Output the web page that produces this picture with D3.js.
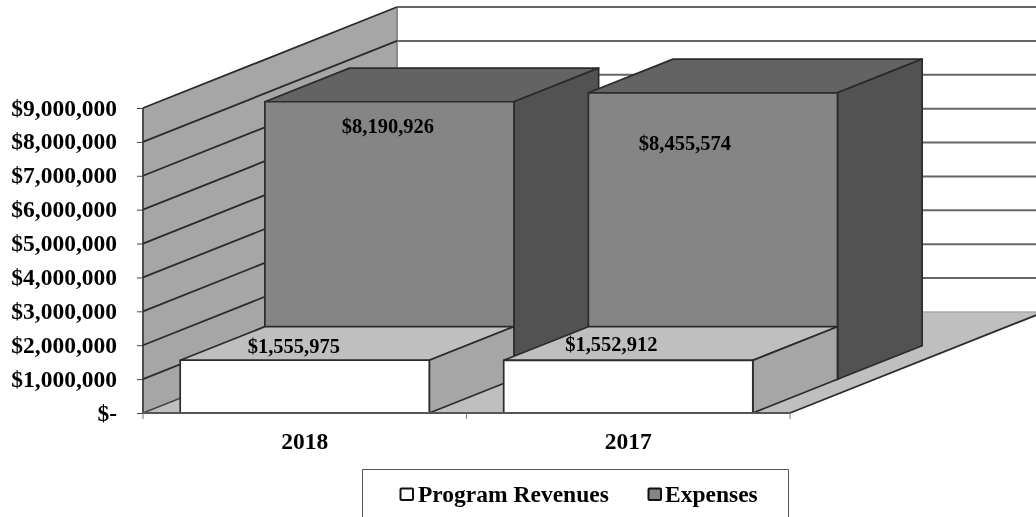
<!DOCTYPE html>
<html><head><meta charset="utf-8">
<script src="https://cdn.jsdelivr.net/npm/d3@7"></script>
<style>html,body{margin:0;padding:0;background:#fff;overflow:hidden}svg{display:block;filter:blur(0.4px)}text{font-family:"Liberation Serif",serif;font-weight:bold;fill:#000}</style>
</head><body><div id="c"></div>
<script>
const categories = ["2018", "2017"];
const seriesNames = ["Program Revenues", "Expenses"];
const programRevenues = [1555975, 1552912];
const expenses = [8190926, 8455574];
const yTicks = [0,1e6,2e6,3e6,4e6,5e6,6e6,7e6,8e6,9e6];
const seriesValues = [programRevenues, expenses];

const seriesFill = [
  {front:"#ffffff", top:"#bfbfbf", side:"#a6a6a6"},
  {front:"#858585", top:"#636363", side:"#525252"}
];
const labelOffset = [[[-11,-7],[-17,-9]],[[-1.5,31],[-28,57]]]; // [series][category] px from top-front centre

const W=1036,H=517;
const svg=d3.select("#c").append("svg").attr("width",W).attr("height",H);
const x=d3.scaleBand().domain(categories).range([143,790]);
const y=d3.scaleLinear().domain([0,9000000]).range([413,108]);
const zx=d3.scaleLinear().domain([0,3]).range([0,254]);
const zy=d3.scaleLinear().domain([0,3]).range([0,-101]);
const barW=x.bandwidth()*0.77;
const P=(px,v,z)=>[px+zx(z),y(v)+zy(z)];
const poly=(pts,fill,stroke,sw)=>svg.append("polygon").attr("points",pts.map(p=>p.join(",")).join(" "))
  .attr("fill",fill).attr("stroke",stroke||"none").attr("stroke-width",sw||0).attr("stroke-linejoin","round");
const line=(a,b,c,w)=>svg.append("line").attr("x1",a[0]).attr("y1",a[1]).attr("x2",b[0]).attr("y2",b[1]).attr("stroke",c).attr("stroke-width",w);

const x0=x.range()[0],x1=x.range()[1],vMax=y.domain()[1];

// floor
poly([P(x0,0,0),P(x1,0,0),P(x1,0,3),P(x0,0,3)],"#bfbfbf");
// left wall
poly([P(x0,0,0),P(x0,vMax,0),P(x0,vMax,3),P(x0,0,3)],"#a6a6a6");
line(P(x0,0,3),P(x0,vMax,3),"#8c8c8c",2);
line(P(x0,0,0),P(x0,vMax,0),"#404040",1.8);
// gridlines
yTicks.forEach(t=>{
  if(t>0) line(P(x0,t,0),P(x0,t,3),"#2b2b2b",1.8);
  line(P(x0,t,3),[W+2,P(x0,t,3)[1]],t>0?"#666":"#a8a8a8",t>0?2:1.5);
});
// floor diagonal edges
line(P(x0,0,0),P(x0,0,3),"#444",1.5);
line(P(x1,0,0),P(x1,0,3),"#2b2b2b",1.8);

function bar(s,c){
  const v=seriesValues[s][c];
  const l=x(categories[c])+(x.bandwidth()-barW)/2, r=l+barW;
  const f=seriesFill[s], st="#2b2b2b";
  poly([P(l,v,s),P(r,v,s),P(r,v,s+1),P(l,v,s+1)],f.top,st,1.7);
  poly([P(r,0,s),P(r,v,s),P(r,v,s+1),P(r,0,s+1)],f.side,st,1.7);
  poly([P(l,0,s),P(r,0,s),P(r,v,s),P(l,v,s)],f.front,st,1.7);
}
[1,0].forEach(s=>categories.forEach((_,c)=>bar(s,c)));
line(P(x0,0,0),P(x1,0,0),"#555",2);

// axes
const yAxis=d3.axisLeft(y).tickValues(yTicks).tickSize(6).tickPadding(20)
  .tickFormat(d=>d===0?"$-":d3.format("$,")(d));
const gy=svg.append("g").attr("transform",`translate(${x0},0)`).call(yAxis);
gy.select(".domain").remove();
gy.selectAll("line").attr("stroke","#444").attr("stroke-width",1);
gy.selectAll("text").style("font-size","23.5px").style("font-family","'Liberation Serif',serif").style("font-weight","bold").attr("fill","#000").attr("dy","0.3em");

const xAxis=d3.axisBottom(x).tickSize(0).tickPadding(19);
const gx=svg.append("g").attr("transform",`translate(0,${y(0)})`).call(xAxis);
gx.select(".domain").remove();
gx.selectAll("text").style("font-size","23.5px").style("font-family","'Liberation Serif',serif").style("font-weight","bold").attr("fill","#000");
[x0,x(categories[1]),x1].forEach(px=>line([px,y(0)],[px,y(0)+6],"#777",1));

// data labels
seriesValues.forEach((vals,s)=>vals.forEach((v,c)=>{
  const cx=x(categories[c])+x.bandwidth()/2;
  const p=P(cx,v,s), o=labelOffset[s][c];
  svg.append("text").attr("x",p[0]+o[0]).attr("y",p[1]+o[1]).attr("text-anchor","middle")
    .style("font-size","20.5px").text(d3.format("$,")(v));
}));

// legend
const lg=svg.append("g");
lg.append("path").attr("d","M362.5,517V469.5H788.5V517").attr("fill","#fff").attr("stroke","#555").attr("stroke-width",1);
const legendX=[[400.5,418],[648.5,665]];
seriesNames.forEach((n,i)=>{
  lg.append("rect").attr("x",legendX[i][0]).attr("y",488.5).attr("width",12.5).attr("height",11.5).attr("rx",1)
    .attr("fill",seriesFill[i].front).attr("stroke","#111").attr("stroke-width",2);
  lg.append("text").attr("x",legendX[i][1]).attr("y",501.5).style("font-size","23.5px").text(n);
});
</script></body></html>
